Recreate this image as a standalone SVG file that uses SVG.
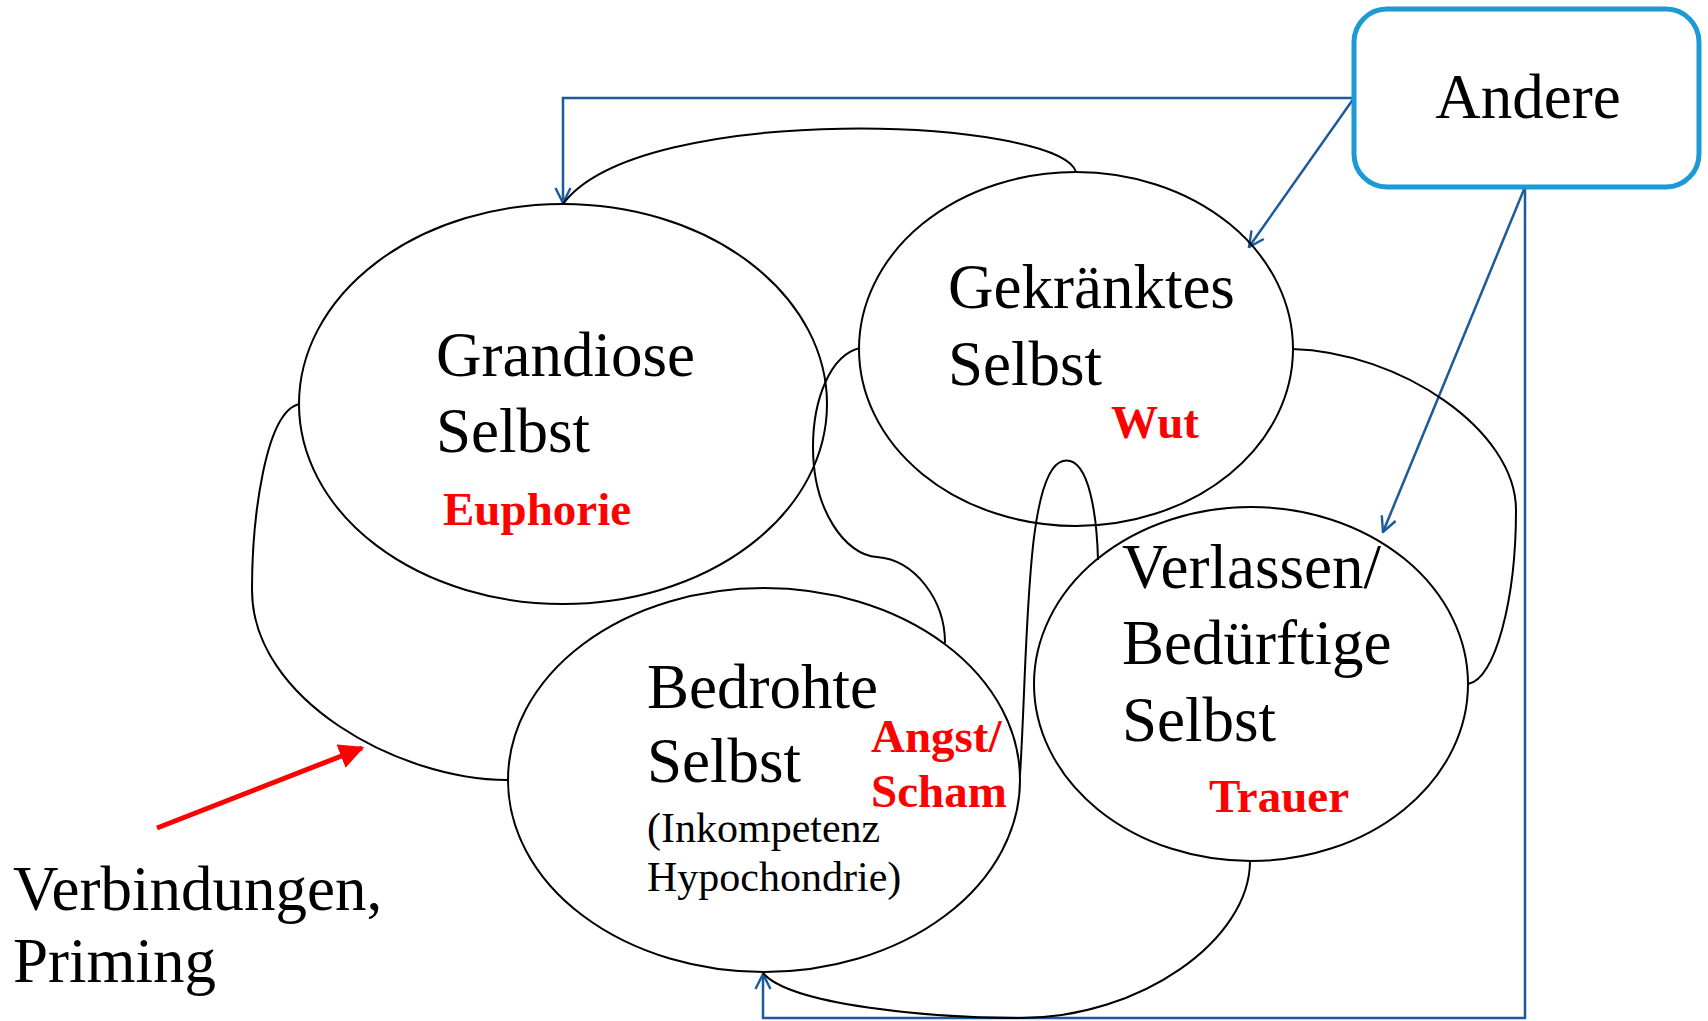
<svg xmlns="http://www.w3.org/2000/svg" width="1708" height="1021" viewBox="0 0 1708 1021">
<defs>
<style>
.node{fill:none;stroke:#000;stroke-width:2}
.lbl{font-family:"Liberation Serif","Times New Roman",serif;font-size:63px;fill:#000}
.sm{font-family:"Liberation Serif","Times New Roman",serif;font-size:42px;fill:#000}
.emo{font-family:"Liberation Serif","Times New Roman",serif;font-size:47px;font-weight:bold;fill:#ff0000}
.blue{fill:none;stroke:#1c5a9c;stroke-width:2.5}
.blk{fill:none;stroke:#000;stroke-width:2}
</style>
<marker id="ah" viewBox="0 0 12 12" refX="11" refY="6" markerWidth="18" markerHeight="18" markerUnits="userSpaceOnUse" orient="auto">
<path d="M1,1 L11,6 L1,11" fill="none" stroke="#1c5a9c" stroke-width="1.6"/>
</marker>
<marker id="rh" viewBox="0 0 10 10" refX="9" refY="5" markerWidth="5" markerHeight="5" orient="auto">
<path d="M0,0 L10,5 L0,10 Z" fill="#ff0000"/>
</marker>
</defs>
<rect width="1708" height="1021" fill="#ffffff"/>

<g id="connectors">
<path class="blue" d="M1354,98 L563,98 L563,203" marker-end="url(#ah)"/>
<path class="blue" d="M1354,98 L1249,247" marker-end="url(#ah)"/>
<path class="blue" d="M1525,187 L1383,532" marker-end="url(#ah)"/>
<path class="blue" d="M1525,187 L1525,1018 L763,1018 L763,974" marker-end="url(#ah)"/>
<path class="blk" d="M1076,172 C1060,118 640,100 563,204"/>
<path class="blk" d="M300,404 C265,410 252,520 252,590 C252,700 400,780 507,780"/>
<path class="blk" d="M860,348 C830,355 813,400 813,447 C813,510 845,555 877,557 C915,560 945,600 945,643"/>
<path class="blk" d="M1020,775 C1028,650 1025,470 1063,461 C1090,455 1097,520 1098,560"/>
<path class="blk" d="M1292,349 C1400,352 1516,430 1516,510 C1516,600 1495,680 1468,684"/>
<path class="blk" d="M1250,861 C1250,940 1140,1018 1021,1018 C930,1018 790,1005 763,973"/>
<line x1="157" y1="828" x2="362" y2="748" stroke="#ff0000" stroke-width="5" marker-end="url(#rh)"/>
</g>

<g id="andere">
<rect x="1354" y="9" width="345" height="178" rx="33" ry="33" fill="#ffffff" stroke="#1b9ad6" stroke-width="5"/>
<text class="lbl" x="1528" y="118" text-anchor="middle">Andere</text>
</g>

<g id="grandiose">
<ellipse class="node" cx="563" cy="404" rx="264" ry="200"/>
<text class="lbl" x="436" y="376">Grandiose</text>
<text class="lbl" x="436" y="452">Selbst</text>
<text class="emo" x="443" y="525">Euphorie</text>
</g>

<g id="gekraenktes">
<ellipse class="node" cx="1076" cy="349" rx="217" ry="177"/>
<text class="lbl" x="948" y="308">Gekränktes</text>
<text class="lbl" x="948" y="385">Selbst</text>
<text class="emo" x="1111" y="438">Wut</text>
</g>

<g id="bedrohte">
<ellipse class="node" cx="764" cy="780" rx="256" ry="192"/>
<text class="lbl" x="647" y="708">Bedrohte</text>
<text class="lbl" x="647" y="782">Selbst</text>
<text class="sm" x="647" y="842">(Inkompetenz</text>
<text class="sm" x="647" y="891">Hypochondrie)</text>
<text class="emo" x="871" y="752">Angst/</text>
<text class="emo" x="871" y="807">Scham</text>
</g>

<g id="verlassen">
<ellipse class="node" cx="1251" cy="684" rx="217" ry="177"/>
<text class="lbl" x="1122" y="588">Verlassen/</text>
<text class="lbl" x="1122" y="664">Bedürftige</text>
<text class="lbl" x="1122" y="741">Selbst</text>
<text class="emo" x="1209" y="812">Trauer</text>
</g>

<g id="verbindungen">
<text class="lbl" x="13" y="910">Verbindungen,</text>
<text class="lbl" x="13" y="982">Priming</text>
</g>
</svg>
